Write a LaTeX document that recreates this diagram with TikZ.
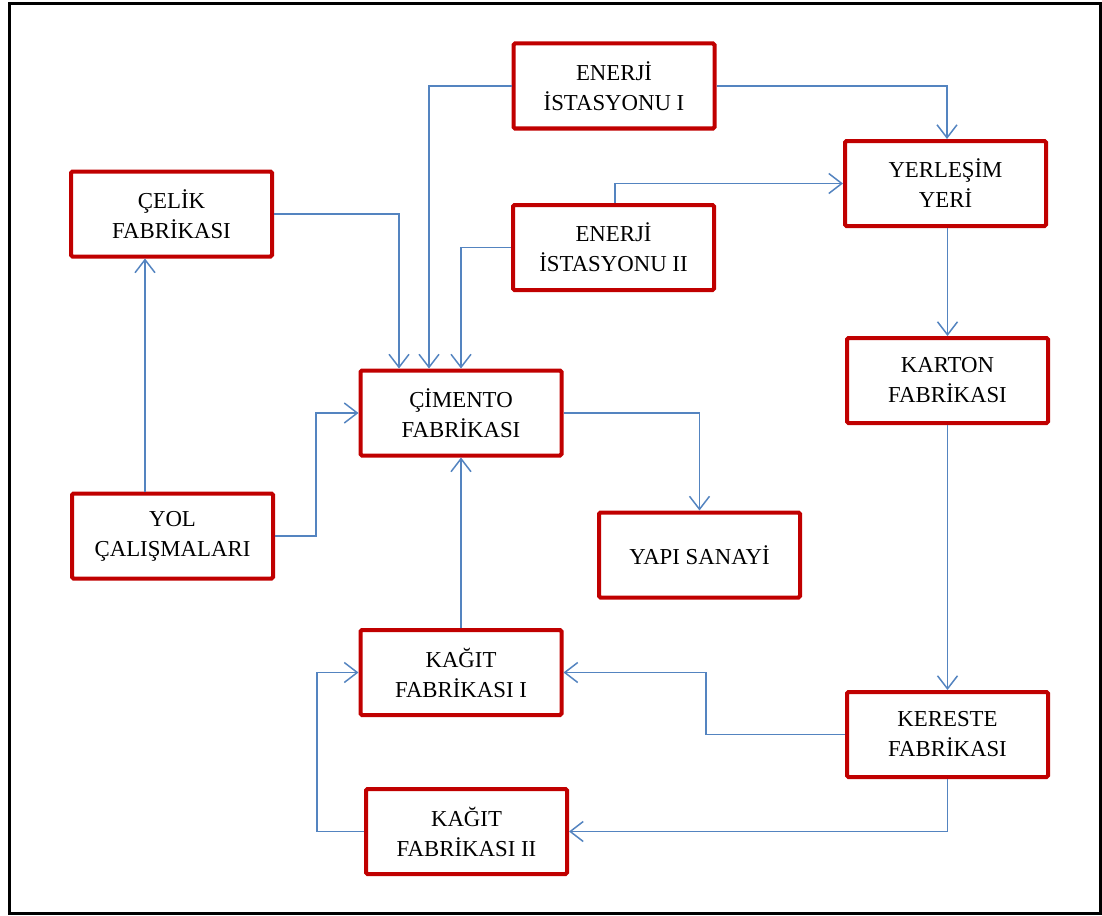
\documentclass[tikz,border=0pt]{standalone}
\usepackage{fontspec}
\setmainfont{Liberation Serif}
\usetikzlibrary{arrows.meta}
\definecolor{boxred}{RGB}{192,0,0}
\definecolor{linkblue}{RGB}{84,132,192}
\begin{document}
\begin{tikzpicture}[x=1pt,y=-1pt,
  unit/.style={draw=boxred, line width=4pt, rounded corners=1.5pt,
    minimum width=201pt, minimum height=85pt, inner sep=0pt,
    align=center, font=\fontsize{22.8}{30}\selectfont, text=black},
  link/.style={draw=linkblue, line width=1.6pt,
    -{Straight Barb[length=13pt,width=20pt,line width=1.5pt]}}]
\useasboundingbox (0,0) rectangle (1102,915);
\draw[line width=3pt, black] (9,4) rectangle (1100,913);

% factories and facilities
\node[unit] (e1)  at (614,86)     {ENERJİ\\İSTASYONU I};
\node[unit] (yer) at (945.5,183.5) {YERLEŞİM\\YERİ};
\node[unit] (cel) at (171.5,214)  {ÇELİK\\FABRİKASI};
\node[unit] (e2)  at (613.5,247.5) {ENERJİ\\İSTASYONU II};
\node[unit] (kar) at (947.5,380.5) {KARTON\\FABRİKASI};
\node[unit] (cim) at (461,413)    {ÇİMENTO\\FABRİKASI};
\node[unit] (yol) at (172.5,536)  {YOL\\ÇALIŞMALARI};
\node[unit] (yap) at (699.5,555)  {YAPI SANAYİ};
\node[unit] (k1)  at (461,672.5)  {KAĞIT\\FABRİKASI I};
\node[unit] (ker) at (947.5,734.5) {KERESTE\\FABRİKASI};
\node[unit] (k2)  at (466.5,831.5) {KAĞIT\\FABRİKASI II};

% bend points
\coordinate (kbend) at (706,0);
\coordinate (lbend) at (317,0);
\coordinate (ybend) at (316,0);
\coordinate (cbend) at (145,0);

% supply links
\draw[link] (cel.east) -| ([xshift=-62pt]cim.north);
\draw[link] (e1.west) -| ([xshift=-32pt]cim.north);
\draw[link] (e2.west) -| (cim.north);
\draw[link] (e1.east) -| ([xshift=1.5pt]yer.north);
\draw[link] ([xshift=1.5pt]e2.north) |- (yer.west);
\draw[link] (kar.north |- yer.south) -- (kar.north);
\draw[link] (kar.south) -- (ker.north);
\draw[link] (ker.west) -| (kbend |- k1.east) -- (k1.east);
\draw[link] (ker.south) |- (k2.east);
\draw[link] (k2.west) -| (lbend |- k1.west) -- (k1.west);
\draw[link] (k1.north) -- (cim.south);
\draw[link] (yol.east) -| (ybend |- cim.west) -- (cim.west);
\draw[link] (cbend |- yol.north) -- (cbend |- cel.south);
\draw[link] (cim.east) -| (yap.north);
\end{tikzpicture}
\end{document}
